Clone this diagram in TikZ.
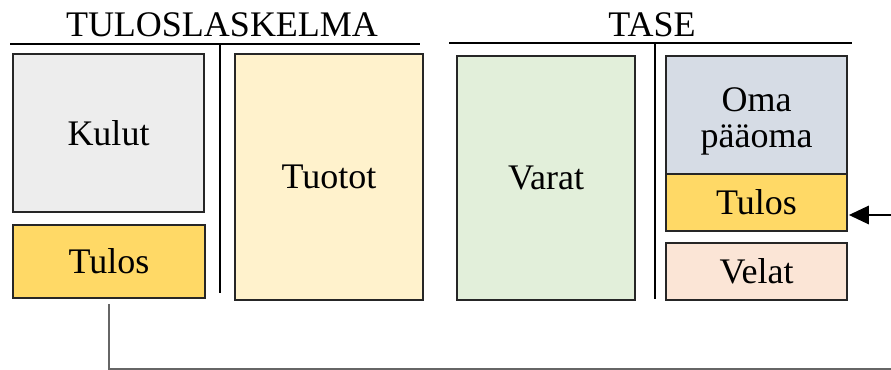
\documentclass[tikz,border=0pt]{standalone}
\usepackage{fontspec}
\setmainfont{Liberation Serif}
\usetikzlibrary{arrows.meta}

\definecolor{kulutgray}{HTML}{EDEDED}
\definecolor{tulosgold}{HTML}{FFD966}
\definecolor{tuototcream}{HTML}{FFF2CC}
\definecolor{varatgreen}{HTML}{E2EFDA}
\definecolor{omablue}{HTML}{D6DCE5}
\definecolor{velatpeach}{HTML}{FBE5D6}

\tikzset{
  box/.style={draw=black!85, line width=0.9pt, inner sep=0pt, font=\fontsize{27}{27}\selectfont},
  heading/.style={font=\fontsize{27}{27}\selectfont, inner sep=0pt},
  divider/.style={line width=1.6pt},
  link/.style={draw=black!60, line width=0.9pt}
}

\begin{document}
\begin{tikzpicture}[x=0.75pt, y=-0.75pt]
\useasboundingbox (0,0) rectangle (891,370);

  % Headings
  \node[heading] (tulhead) at (222,25) {TULOSLASKELMA};
  \node[heading] (tasehead) at (652,25) {TASE};
  \draw[divider] (10,44) -- (420,44);
  \draw[divider] (220,44) -- (220,293);
  \draw[divider] (449,43) -- (852,43);
  \draw[divider] (655,43) -- (655,299);

  % Tuloslaskelma
  \node[box, fill=kulutgray, minimum width=143.25pt, minimum height=118.5pt] (kulut) at (108.5,133) {Kulut};
  \node[box, fill=tulosgold, minimum width=144pt, minimum height=54.75pt] (tulosL) at (109,261.5) {Tulos};
  \node[box, fill=tuototcream, minimum width=141pt, minimum height=184.5pt] (tuotot) at (329,177) {Tuotot};

  % Tase
  \node[box, fill=omablue, minimum width=135.75pt, minimum height=88.5pt] (oma) at (756.5,115) {};
  \node[align=center, inner sep=0pt, font=\fontsize{27}{27}\selectfont] (omatext) at (756.5,121) {Oma\\[0pt]pääoma};
  \node[box, fill=varatgreen, minimum width=133.5pt, minimum height=183pt] (varat) at (546,178) {Varat};
  \node[box, fill=tulosgold, minimum width=135.75pt, minimum height=42.75pt] (tulosR) at (756.5,202.5) {Tulos};
  \node[box, fill=velatpeach, minimum width=135.75pt, minimum height=42.75pt] (velat) at (756.5,271.5) {Velat};

  % Tulos siirtyy taseeseen
  \coordinate (low) at (920,369);
  \coordinate (high) at (920,215);
  \draw[link] ([yshift=-4pt]tulosL.south) |- (low) -- (high);
  \draw[line width=0.9pt, -{Triangle[length=15pt, width=14pt]}] (high) -- ([xshift=1pt]high -| tulosR.east);
\end{tikzpicture}
\end{document}
